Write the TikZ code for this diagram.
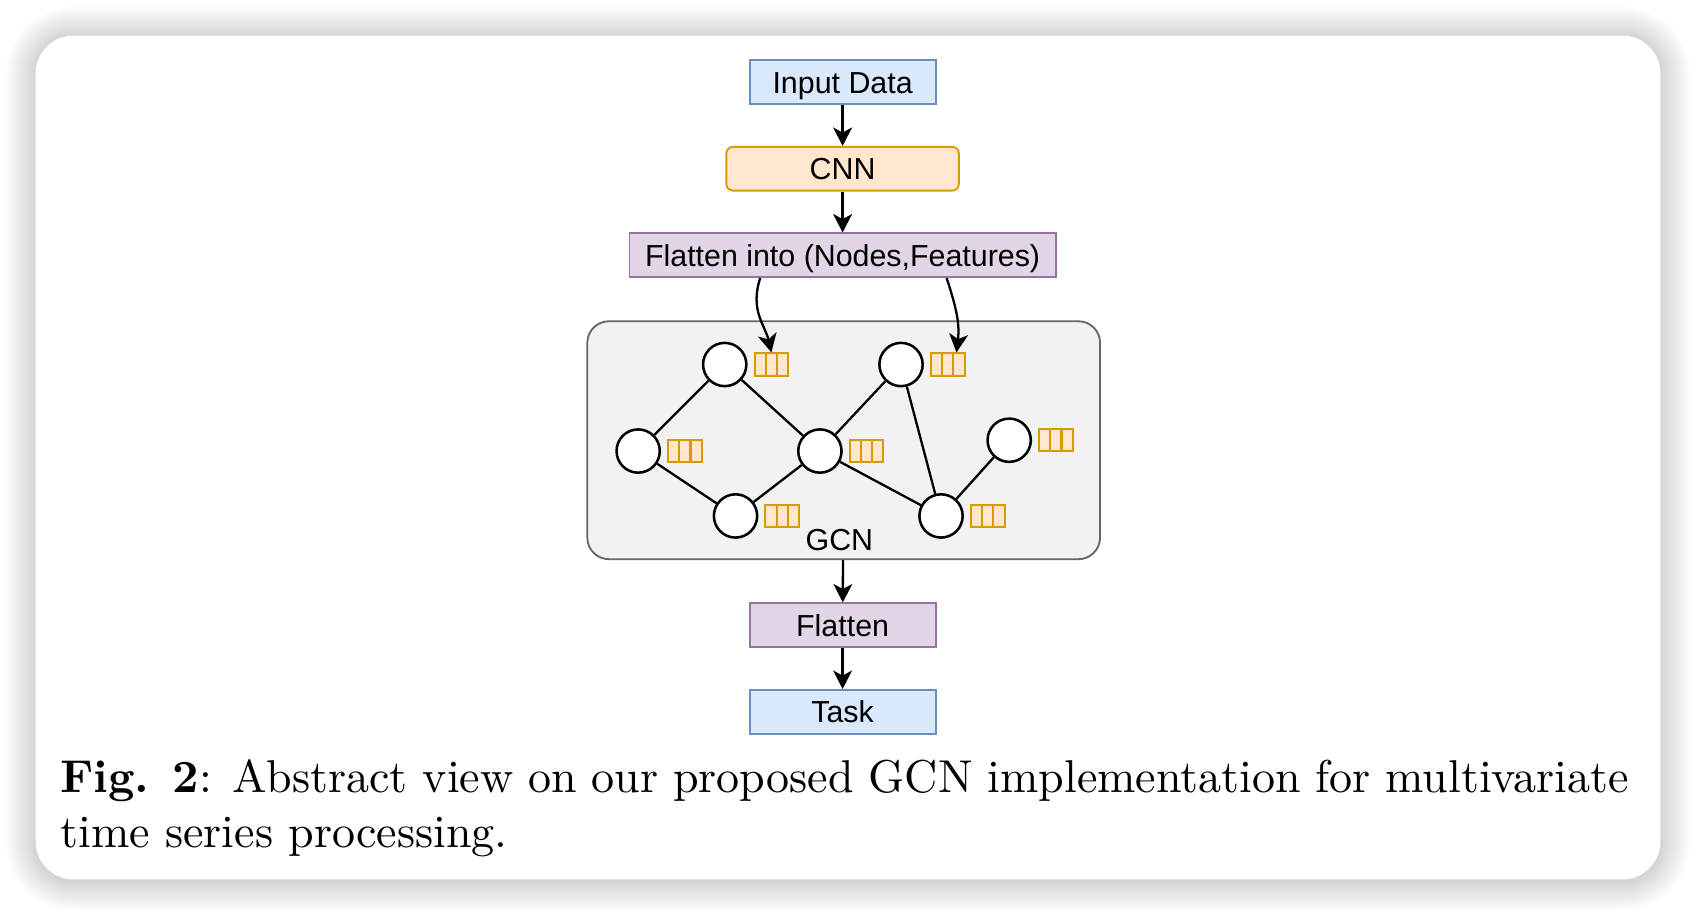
\documentclass[tikz,border=0pt]{standalone}
\usepackage{fontspec}
\newfontfamily\boxfont{Liberation Sans}
\usetikzlibrary{arrows.meta,positioning}

\definecolor{blueFill}{HTML}{DAE8FC}
\definecolor{blueLine}{HTML}{6C8EBF}
\definecolor{orangeFill}{HTML}{FFE6CC}
\definecolor{orangeLine}{HTML}{D79B00}
\definecolor{purpleFill}{HTML}{E1D5E7}
\definecolor{purpleLine}{HTML}{9673A6}
\definecolor{grayFill}{HTML}{F2F2F2}
\definecolor{grayLine}{HTML}{666666}

\begin{document}
\begin{tikzpicture}
[x=0.235pt,y=-0.235pt,
  boxDecorate/.style={shape=rectangle,draw,line width=0.4pt,inner sep=0pt,text height=4.8pt,text depth=0pt,%
    minimum width=40.4pt,minimum height=9.5pt,font=\boxfont\fontsize{6.6}{7.9}\selectfont},%
  nodeDecorate/.style={shape=circle,draw,fill=white,line width=0.55pt,inner sep=0pt,minimum size=9.4pt},%
  featDecorate/.style={shape=rectangle,draw=orangeLine,fill=orangeFill,line width=0.45pt,inner sep=0pt,%
    minimum width=7.3pt,minimum height=4.8pt,%
    path picture={\draw[orangeLine,line width=0.45pt]
      ([xshift=-1.22pt]path picture bounding box.north) -- ([xshift=-1.22pt]path picture bounding box.south)
      ([xshift=1.22pt]path picture bounding box.north) -- ([xshift=1.22pt]path picture bounding box.south);}},%
  lineDecorate/.style={-,line width=0.5pt},%
  arrowDecorate/.style={-{Stealth[length=4pt,width=4.1pt,inset=1.1pt]},line width=0.5pt}]
%% page and card with its soft shadow
\fill[white] (0,0) rectangle (1568,847);
\useasboundingbox (0,0) rectangle (1568,847);
\foreach \s in {1,...,14}
{
  \pgfmathsetmacro{\rad}{8.2+0.47*\s}
  \fill[black,opacity=0.011,rounded corners=\rad pt] (33-2*\s,33-2*\s+1) rectangle (1535+2*\s,813+2*\s+1);
}
\fill[white,rounded corners=8.2pt] (33,33) rectangle (1535,813);
%% main column
\node (input) at (779,76) [boxDecorate,fill=blueFill,draw=blueLine] {Input Data};
\node (cnn) at (779,156) [boxDecorate,fill=orangeFill,draw=orangeLine,rounded corners=1.4pt,minimum width=50.5pt] {CNN};
\node (flatfeat) at (779,236) [boxDecorate,fill=purpleFill,draw=purpleLine,minimum width=92.6pt] {Flatten into (Nodes,Features)};
\node (gcn) at (780,407) [shape=rectangle,draw=grayLine,fill=grayFill,line width=0.4pt,rounded corners=4.7pt,%
  minimum width=111.4pt,minimum height=51.7pt] {};
\node (gcnlabel) at (776,499) [font=\boxfont\fontsize{6.6}{7.9}\selectfont,inner sep=0pt] {GCN};
\node (flat) at (779,578) [boxDecorate,fill=purpleFill,draw=purpleLine] {Flatten};
\node (task) at (779,658) [boxDecorate,fill=blueFill,draw=blueLine] {Task};
%% graph nodes with their feature vectors
\foreach \nodename/\x/\y in {
  a/670/337, b/833/337, c/590/417, d/758/417, e/933/407, f/680/477, g/870/477}
{
  \node (\nodename) at (\x,\y) [nodeDecorate] {};
  \node (\nodename feat) [featDecorate,right=1.3pt of \nodename] {};
}
%% graph edges
\path
\foreach \startnode/\endnode in {
  a/c, a/d, c/f, f/d, d/b, d/g, b/g, g/e}
{
  (\startnode) edge[lineDecorate] (\endnode)
};
%% arrows
\draw[arrowDecorate] (input) -- (cnn);
\draw[arrowDecorate] (cnn) -- (flatfeat);
\draw[arrowDecorate] (gcn) -- (flat);
\draw[arrowDecorate] (flat) -- (task);
\draw[arrowDecorate] ([xshift=-17.9pt]flatfeat.south) .. controls +(-2.3pt,-7pt) and +(-1.4pt,6pt) .. (afeat.north);
\draw[arrowDecorate] ([xshift=22.6pt]flatfeat.south) .. controls +(2.3pt,-7pt) and +(0.7pt,6pt) .. ([xshift=1.9pt]bfeat.north);
%% caption
\node (caption) at (55,701) [anchor=north west,inner sep=0pt,text width=340.75pt,align=justify,%
  font=\fontsize{10}{12}\selectfont]
  {\textbf{Fig. 2}: Abstract view on our proposed GCN implementation for multivariate time series processing.};
\end{tikzpicture}
\end{document}
